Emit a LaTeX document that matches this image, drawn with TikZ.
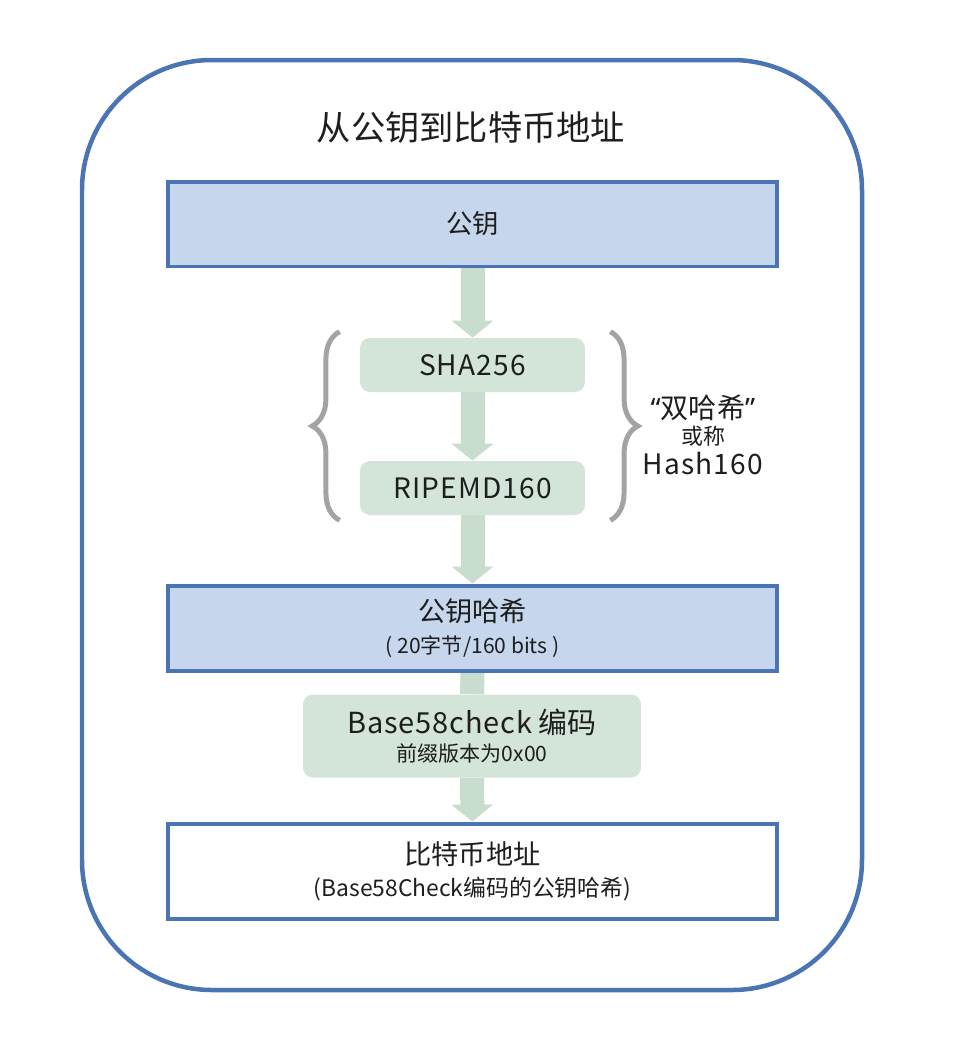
\documentclass[tikz,border=0pt]{standalone}
\usepackage{fontspec}
\setmainfont{Noto Sans CJK SC}
\newfontfamily\quotefont{Noto Sans}
\usetikzlibrary{arrows.meta,decorations.pathreplacing,backgrounds}
\definecolor{frameblue}{HTML}{4A74B4}
\definecolor{boxblue}{HTML}{C6D6EC}
\definecolor{stepgreen}{HTML}{D3E5D8}
\definecolor{arrowgreen}{HTML}{C9DDCF}
\definecolor{bracegray}{HTML}{A3A3A3}
\definecolor{inkgray}{HTML}{1E1E1E}

\begin{document}
\begin{tikzpicture}[x=0.02cm, y=-0.02cm, text=inkgray,
        bigbox/.style={draw=frameblue, line width=0.08cm, fill=boxblue, minimum width=12.2cm, minimum height=1.7cm, align=center, inner sep=0pt},
        hashbox/.style={fill=stepgreen, rounded corners=0.2cm, minimum width=4.5cm, minimum height=1.08cm, align=center, inner sep=0pt},
        flow/.style={draw=arrowgreen, line width=0.48cm},
        flowtip/.style={flow, -{Triangle[length=0.34cm, width=0.82cm]}},
        curly/.style={draw=bracegray, line width=0.1cm, decorate, decoration={brace, amplitude=0.55cm}},
        wide/.style={font=\fontsize{16}{19}\selectfont\addfontfeature{LetterSpace=4}}]
        \useasboundingbox (0,0) rectangle (958,1046);

        % Outer frame
        \draw[frameblue, line width=0.09cm, rounded corners=2.6cm] (82,60) rectangle (862,990);

        % Title
        \node[font=\fontsize{19.5}{23}\selectfont] (title) at (471,128) {从公钥到比特币地址};

        % Steps
        \node[bigbox, font=\fontsize{15}{18}\selectfont] (pk) at (472.5,224) {公钥};
        \node[hashbox, wide] (sha) at (472.5,365) {SHA256};
        \node[hashbox, wide] (rip) at (472.5,488) {RIPEMD160};
        \node[bigbox, font=\fontsize{15.5}{20}\selectfont] (pkh) at (472.5,628)
            {公钥哈希\\[-2pt] {\fontsize{12}{14}\selectfont ( 20字节/160 bits )}};
        \node[hashbox, minimum width=6.76cm, minimum height=1.66cm, font=\fontsize{16.5}{19}\selectfont] (b58) at (472,736)
            {{\addfontfeature{LetterSpace=3}Base58check} 编码\\[-3pt] {\fontsize{12}{14}\selectfont 前缀版本为0x00}};
        \node[bigbox, fill=white, minimum height=1.9cm, font=\fontsize{15.5}{19}\selectfont] (addr) at (472.5,871)
            {比特币地址\\[-1pt] {\fontsize{13}{15}\selectfont (Base58Check编码的公钥哈希)}};

        % Double hash braces
        \draw[curly] ([shift={(-20,5)}]rip.south west) -- ([shift={(-20,-6)}]sha.north west);
        \draw[curly] ([shift={(25,-6)}]sha.north east) -- ([shift={(25,5)}]rip.south east);
        \node[align=center, font=\fontsize{16}{19}\selectfont] (dh) at (703,435)
            {{\quotefont “}双哈希{\quotefont ”}\\[-4pt] {\fontsize{12.5}{14}\selectfont 或称}\\[-2pt] {\addfontfeature{LetterSpace=4}Hash160}};

        % Flow arrows
        \begin{pgfonlayer}{background}
            \draw[flowtip] (pk.south) -- (sha.north);
            \draw[flowtip] (sha.south) -- (rip.north);
            \draw[flowtip] (rip.south) -- (pkh.north);
            \draw[flow] (pkh.south) -- (b58.north);
            \draw[flowtip] (b58.south) -- (addr.north);
        \end{pgfonlayer}
    \end{tikzpicture}
\end{document}
